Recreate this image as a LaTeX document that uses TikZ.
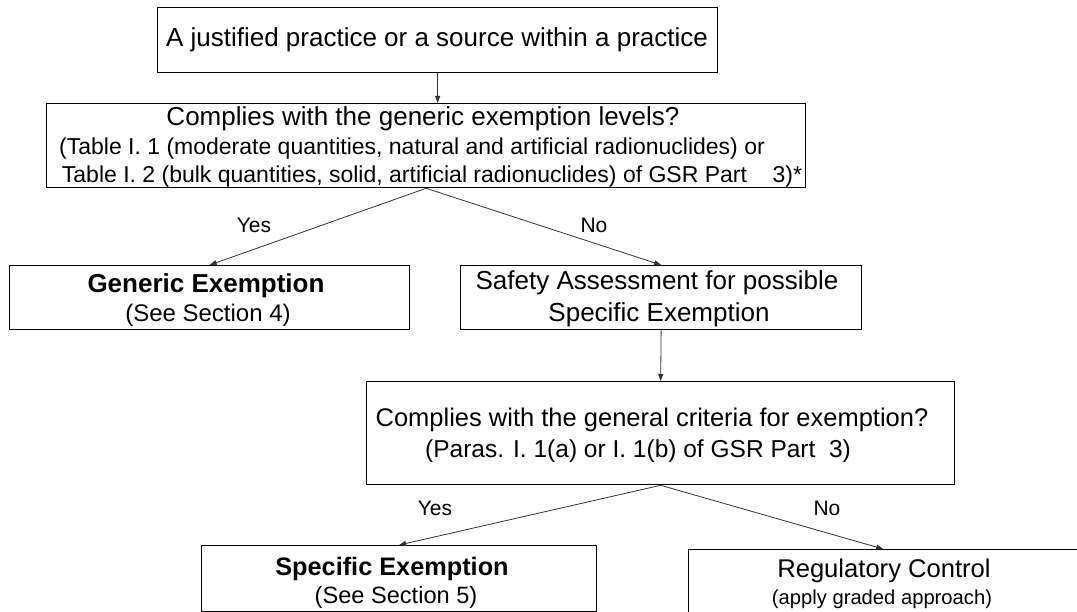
\documentclass[tikz,border=0pt]{standalone}
\usepackage{fontspec}
\setmainfont{Liberation Sans}
\usetikzlibrary{arrows.meta}

\newcommand{\fs}[1]{\fontsize{#1}{#1}\selectfont}

\tikzset{
  box/.style={draw=black, line width=1.3pt, inner sep=0pt, anchor=north west},
  txt/.style={anchor=base, inner sep=0pt, font=\fs{26}},
  lbl/.style={anchor=base, inner sep=0pt, font=\fs{21}},
  link/.style={draw=black!80, line width=0.8pt, -{Triangle[length=7pt,width=5pt]}}
}

\begin{document}
\begin{tikzpicture}[x=1pt, y=-1pt]
\useasboundingbox (0,0) rectangle (1077,612);

% boxes: top-left corner, width x height
\node[box, minimum width=560pt, minimum height=65pt]  (start) at (157,7)   {};
\node[box, minimum width=759pt, minimum height=84pt]  (generic) at (46,103) {};
\node[box, minimum width=400pt, minimum height=64pt]  (genex) at (9,265)   {};
\node[box, minimum width=401pt, minimum height=64pt]  (safety) at (460,265) {};
\node[box, minimum width=588pt, minimum height=103pt] (general) at (366,381) {};
\node[box, minimum width=395pt, minimum height=66pt]  (specex) at (201,545) {};
\node[box, minimum width=389pt, minimum height=66pt]  (regctl) at (688,549) {};

% box texts
\node[txt] (t1) at (437,47) {A justified practice or a source within a practice};

\node[txt] (t2a) at (423,126) {Complies with the generic exemption levels?};
\node[txt, font=\fs{23}] (t2b) at (412,155) {(Table I. 1 (moderate quantities, natural and artificial radionuclides) or};
\node[txt, font=\fs{23}] (t2c) at (432,183) {Table I. 2 (bulk quantities, solid, artificial radionuclides) of GSR Part\ \ \ \ 3)*};

\node[txt, font=\fs{26}\bfseries] (t3a) at (206,293) {Generic Exemption};
\node[txt, font=\fs{24}] (t3b) at (208,322) {(See Section 4)};

\node[txt] (t4a) at (657,290) {Safety Assessment for possible};
\node[txt] (t4b) at (659,322) {Specific Exemption};

\node[txt, font=\fs{25.5}] (t5a) at (652,427) {Complies with the general criteria for exemption?};
\node[txt, font=\fs{24.5}] (t5b) at (638,457) {(Paras. I. 1(a) or I. 1(b) of GSR Part\ \ 3)};

\node[txt, font=\fs{25.3}\bfseries] (t6a) at (392,575) {Specific Exemption};
\node[txt, font=\fs{23.6}] (t6b) at (396,603) {(See Section 5)};

\node[txt, font=\fs{25.6}] (t7a) at (884,577) {Regulatory Control};
\node[txt, font=\fs{20.2}] (t7b) at (882,604) {(apply graded approach)};

% branch labels
\node[lbl] (y1) at (254,233) {Yes};
\node[lbl] (n1) at (594,233) {No};
\node[lbl] (y2) at (435,515) {Yes};
\node[lbl] (n2) at (827,515) {No};

% connectors
\draw[link] (start.south) -- (start.south |- generic.north);
\draw[link] (generic.south) -- (genex.north);
\draw[link] (generic.south) -- (safety.north);
\draw[link] (safety.south) -- (general.north);
\draw[link] (general.south) -- (specex.north);
\draw[link] (general.south) -- (regctl.north);
\end{tikzpicture}
\end{document}
